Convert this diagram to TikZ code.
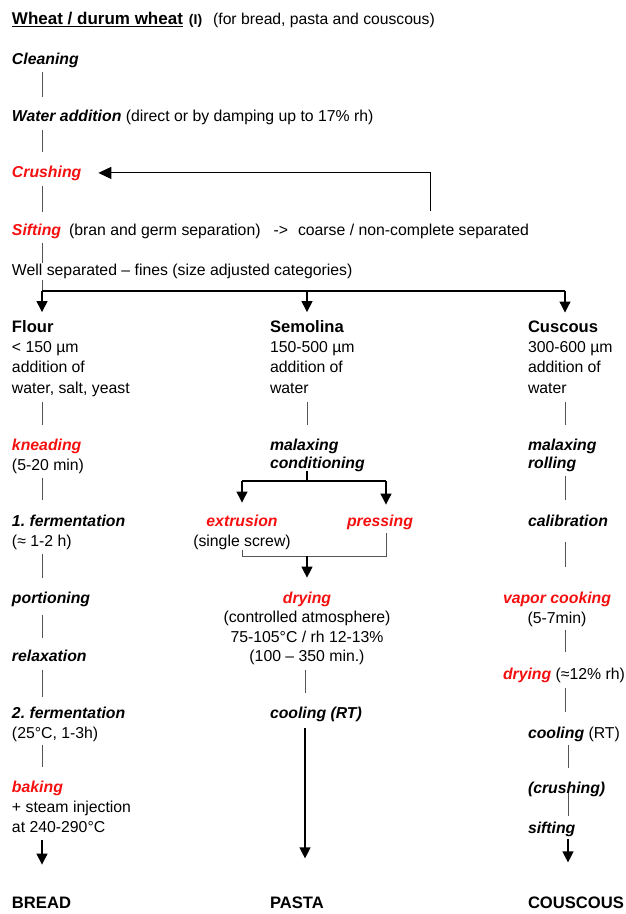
\documentclass[tikz,border=0pt]{standalone}
\usepackage{fontspec}
\setmainfont{Liberation Sans}
\usetikzlibrary{arrows.meta}

\definecolor{stepred}{RGB}{245,15,15}
\definecolor{stemgray}{RGB}{85,85,85}

% text sizes
\newcommand\txtsize{\fontsize{15.8}{20.3}\selectfont}
\newcommand\pairsize{\fontsize{15.8}{18}\selectfont}
\newcommand\drysize{\fontsize{15.8}{19.5}\selectfont}
\newcommand\headsize{\fontsize{16.6}{20.3}\selectfont}
% process step names
\newcommand\procstep[1]{\textbf{\textit{#1}}}
\newcommand\keystep[1]{\textcolor{stepred}{\textbf{\textit{#1}}}}

\begin{document}
\begin{tikzpicture}[x=1pt, y=-1pt,
  every node/.style={inner sep=0pt, outer sep=0pt},
  % multi-line blocks are placed by the baseline of their last line
  txt/.style={anchor=base west, align=left, font=\txtsize},
  ctr/.style={anchor=base, align=center, font=\txtsize},
  product/.style={anchor=base west, font=\headsize\bfseries},
  stem/.style={draw=stemgray, line width=0.9pt},
  branch/.style={draw=black, line width=1.2pt},
  flow/.style={draw=black, line width=1.2pt, -{Triangle[width=11pt,length=11pt]}},
  loopflow/.style={draw=black, line width=1pt, -{Triangle[width=12pt,length=13pt]}}]

\useasboundingbox (0,0) rectangle (626,914);

% column axes
\coordinate (c1) at (42,0);
\coordinate (c2) at (307,0);
\coordinate (c2b) at (305,0);
\coordinate (c3) at (565,0);
\coordinate (c3b) at (568,0);
\coordinate (pa) at (386,0);
\coordinate (lx) at (430,0);

% ---- common part ----
\node[txt] (title) at (12,24) {{\fontsize{17}{20}\selectfont\bfseries\underline{Wheat / durum wheat}}\hspace{6pt}{\fontsize{14}{18}\selectfont\bfseries (I)}\hspace{11pt}{\fontsize{15.7}{20}\selectfont(for bread, pasta and couscous)}};
\node[txt] (clean) at (12,64) {\procstep{Cleaning}};
\node[txt] (water) at (12,121) {\procstep{Water addition} (direct or by damping up to 17\% rh)};
\node[txt] (crush) at (12,177) {\keystep{Crushing}};
\node[txt] (sift) at (12,235) {\keystep{Sifting}\hspace{8pt}(bran and germ separation)\hspace{13pt}->};
\node[txt] (coarse) at (298,235) {coarse / non-complete separated};
\node[txt] (well) at (12,275) {Well separated -- fines (size adjusted categories)};

% ---- bread ----
\node[txt] (flour) at (12,393) {{\headsize\bfseries Flour}\\< 150 µm\\addition of\\water, salt, yeast};
\node[txt] (knead) at (12,470.3) {\keystep{kneading}\\(5-20 min)};
\node[txt] (ferm1) at (12,546.3) {\procstep{1.\ fermentation}\\(≈ 1-2 h)};
\node[txt] (portion) at (12,603) {\procstep{portioning}};
\node[txt] (relax) at (12,661) {\procstep{relaxation}};
\node[txt] (ferm2) at (12,738.3) {\procstep{2.\ fermentation}\\(25°C, 1-3h)};
\node[txt] (bake) at (12,832.6) {\keystep{baking}\\+ steam injection\\at 240-290°C};
\node[product] (bread) at (12,908) {BREAD};

% ---- pasta ----
\node[txt] (semol) at (270,393) {{\headsize\bfseries Semolina}\\150-500 µm\\addition of\\water};
\node[txt, font=\pairsize] (malax2) at (270,468) {\procstep{malaxing}\\\procstep{conditioning}};
\node[ctr] (extr) at (242,546.3) {\keystep{extrusion}\\(single screw)};
\node[ctr] (press) at (380,526) {\keystep{pressing}};
\node[ctr, font=\drysize] (dry2) at (307,661.5) {\keystep{drying}\\(controlled atmosphere)\\75-105°C / rh 12-13\%\\(100 -- 350 min.)};
\node[txt] (cool2) at (270,718) {\procstep{cooling (RT)}};
\node[product] (pasta) at (270,908) {PASTA};

% ---- couscous ----
\node[txt] (cusc) at (528,393) {{\headsize\bfseries Cuscous}\\300-600 µm\\addition of\\water};
\node[txt, font=\pairsize] (malax3) at (528,468) {\procstep{malaxing}\\\procstep{rolling}};
\node[txt] (calib) at (528,526) {\procstep{calibration}};
\node[ctr] (vapor) at (557,623.3) {\keystep{vapor cooking}\\(5-7min)};
\node[txt] (dry3) at (503,679) {\keystep{drying} (≈12\% rh)};
\node[txt] (cool3) at (528,738) {\procstep{cooling} (RT)};
\node[txt] (crush3) at (528,793) {\procstep{(crushing)}};
\node[txt] (sift3) at (528,833) {\procstep{sifting}};
\node[product] (cousc) at (528,908) {COUSCOUS};

% ---- connectors: common part ----
\draw[stem, shorten <=4.7pt, shorten >=12.7pt] (clean.south -| c1) -- (water.north -| c1);
\draw[stem, shorten <=5.7pt, shorten >=13.8pt] (water.south -| c1) -- (crush.north -| c1);
\draw[stem, shorten <=5.7pt, shorten >=11.7pt] (crush.south -| c1) -- (sift.north -| c1);
\draw[stem, shorten <=4.7pt, shorten >=1pt] (sift.south -| c1) -- (well.north -| c1);
\draw[loopflow, shorten <=12.7pt, shorten >=17pt] (coarse.north -| lx) |- (crush.east);

\coordinate (br) at (42,291);
\draw[stem, shorten <=2pt] (well.south -| c1) -- (br);
\draw[branch] (br) -- (br -| c3);
\draw[flow, shorten >=8pt] (br) -- (flour.north -| c1);
\draw[flow, shorten >=8pt] (br -| c2) -- (semol.north -| c2);
\draw[flow, shorten >=8pt] (br -| c3) -- (cusc.north -| c3);

% ---- connectors: bread ----
\draw[stem, shorten <=5.8pt, shorten >=13.8pt] (flour.south -| c1) -- (knead.north -| c1);
\draw[stem, shorten <=4.4pt, shorten >=14.9pt] (knead.south -| c1) -- (ferm1.north -| c1);
\draw[stem, shorten <=4.4pt, shorten >=13.9pt] (ferm1.south -| c1) -- (portion.north -| c1);
\draw[stem, shorten <=8.7pt, shorten >=11.9pt] (portion.south -| c1) -- (relax.north -| c1);
\draw[stem, shorten <=9pt, shorten >=9.8pt] (relax.south -| c1) -- (ferm2.north -| c1);
\draw[stem, shorten <=3.4pt, shorten >=13.9pt] (ferm2.south -| c1) -- (bake.north -| c1);
\draw[flow, shorten <=7.4pt, shorten >=32pt] (bake.south -| c1) -- (bread.north -| c1);

% ---- connectors: pasta ----
\draw[stem, shorten <=9pt, shorten >=13.9pt] (semol.south -| c2) -- (malax2.north -| c2);
\coordinate (sp) at (307,481);
\draw[branch] (malax2.south -| c2) -- (sp);
\draw[branch] (sp -| extr.south) -- (sp -| pa);
\draw[flow, shorten >=12pt] (sp -| extr.north) -- (extr.north);
\draw[flow, shorten >=10pt] (sp -| pa) -- (press.north -| pa);
\coordinate (jn) at (307,556);
\draw[stem, shorten >=4pt] (extr.south) |- (jn -| pa) -- (press.south -| pa);
\draw[flow, shorten >=13.9pt] (jn) -- (dry2.north);
\draw[stem, shorten <=5.2pt, shorten >=13.8pt] (dry2.south -| c2b) -- (cool2.north -| c2b);
\draw[flow, shorten <=6.7pt, shorten >=38pt] (cool2.south -| c2b) -- (pasta.north -| c2b);

% ---- connectors: couscous ----
\draw[stem, shorten <=9pt, shorten >=13.9pt] (cusc.south -| c3) -- (malax3.north -| c3);
\draw[stem, shorten <=5pt, shorten >=14.9pt] (malax3.south -| c3) -- (calib.north -| c3);
\draw[stem, shorten <=16pt, shorten >=24.9pt] (calib.south -| c3) -- (vapor.north -| c3);
\draw[stem, shorten <=3.4pt, shorten >=15.7pt] (vapor.south -| c3) -- (dry3.north -| c3);
\draw[stem, shorten <=5.7pt, shorten >=14.8pt] (dry3.south -| c3) -- (cool3.north -| c3);
\draw[stem, shorten <=3.7pt, shorten >=13.7pt] (cool3.south -| c3b) -- (crush3.north -| c3b);
\draw[stem, shorten <=-3.3pt, shorten >=5.9pt] (crush3.south -| c3b) -- (sift3.north -| c3b);
\draw[flow, shorten <=2.7pt, shorten >=34pt] (sift3.south -| c3b) -- (cousc.north -| c3b);
\end{tikzpicture}
\end{document}
